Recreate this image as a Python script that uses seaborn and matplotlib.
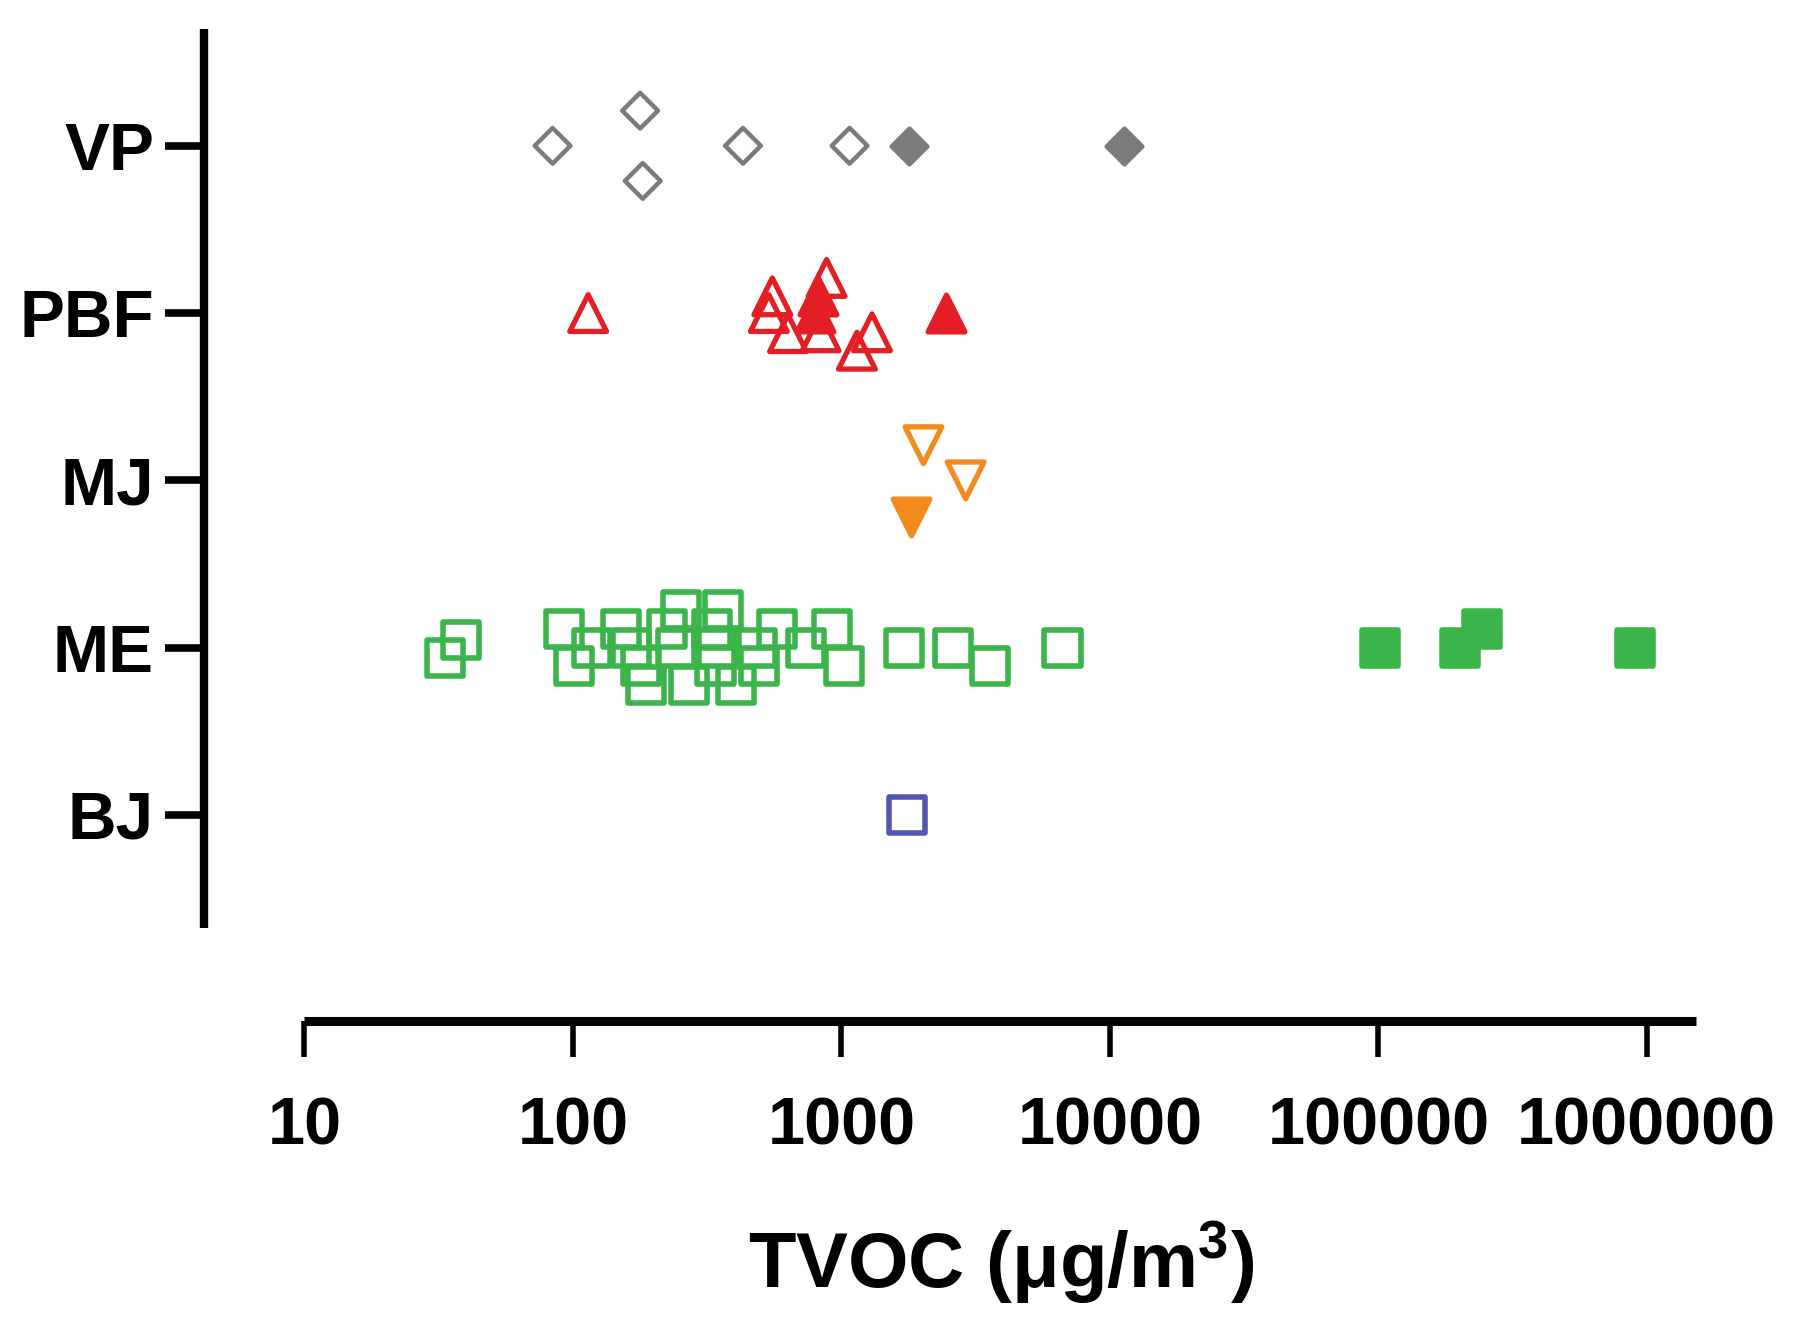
import numpy as np
import pandas as pd
import matplotlib
matplotlib.use("Agg")
import matplotlib.pyplot as plt
import seaborn as sns
from matplotlib.ticker import FixedLocator, FixedFormatter, NullLocator

# ---------------- data ----------------
categories = ["VP", "PBF", "MJ", "ME", "BJ"]

vp_open = [84, 178, 182, 430, 1073]
vp_open_jitter = [0.0, -0.21, 0.21, 0.0, 0.0]
vp_filled = [1784, 11275]
vp_filled_jitter = [0.0, 0.0]

pbf_open = [114, 553, 537, 881, 633, 1300, 1143, 837]
pbf_open_jitter = [0.0, -0.10, 0.0, -0.21, 0.12, 0.115, 0.225, 0.115]
pbf_filled = [818, 801, 2453]
pbf_filled_jitter = [-0.10, 0.0, 0.0]

mj_open = [2022, 2904]
mj_open_jitter = [-0.21, 0.0]
mj_filled = [1824]
mj_filled_jitter = [0.22]

me_open = [33.3, 38.3,
           253, 363,
           92.7, 150.7, 223.5, 330.4, 577, 925,
           118.1, 164.2, 241.5, 345, 486, 736.6,
           101, 178.9, 340, 492, 1023,
           186.7, 270.7, 404,
           1713, 2604, 3589, 6660]
me_open_jitter = [0.06, -0.045,
                  -0.227, -0.227,
                  -0.113, -0.113, -0.113, -0.113, -0.113, -0.113,
                  0.0, 0.0, 0.0, 0.0, 0.0, 0.0,
                  0.108, 0.108, 0.108, 0.108, 0.108,
                  0.221, 0.221, 0.221,
                  0.0, 0.0, 0.108, 0.0]
me_filled = [101400, 201900, 243000, 906000]
me_filled_jitter = [0.0, 0.0, -0.11, 0.0]

bj_open = [1750]
bj_open_jitter = [0.0]

x_ticks = [10, 100, 1000, 10000, 100000, 1000000]
x_tick_labels = ["10", "100", "1000", "10000", "100000", "1000000"]

# ---------------- style ----------------
sns.set_style("ticks")
plt.rcParams["font.family"] = ["Liberation Sans", "DejaVu Sans"]
plt.rcParams["font.weight"] = "bold"
plt.rcParams["mathtext.fontset"] = "custom"
plt.rcParams["mathtext.bf"] = "Liberation Sans:bold"
plt.rcParams["mathtext.rm"] = "Liberation Sans:bold"
plt.rcParams["mathtext.default"] = "bf"
for key in ["text.color", "axes.labelcolor", "xtick.color", "ytick.color",
            "axes.edgecolor", "xtick.labelcolor", "ytick.labelcolor"]:
    plt.rcParams[key] = "black"

colors = {
    "VP": "#7b7b7b",
    "PBF": "#e31e24",
    "MJ": "#f28a1e",
    "ME": "#3bb54a",
    "BJ": "#5255b3",
}
markers = {"VP": "D", "PBF": "^", "MJ": "v", "ME": "s", "BJ": "s"}
sizes = {"VP": 330, "PBF": 700, "MJ": 700, "ME": 680, "BJ": 680}
lws = {"VP": 3.2, "PBF": 3.8, "MJ": 3.8, "ME": 4.0, "BJ": 4.0}

groups = [
    ("VP", vp_open, vp_open_jitter, False),
    ("VP", vp_filled, vp_filled_jitter, True),
    ("PBF", pbf_open, pbf_open_jitter, False),
    ("PBF", pbf_filled, pbf_filled_jitter, True),
    ("MJ", mj_open, mj_open_jitter, False),
    ("MJ", mj_filled, mj_filled_jitter, True),
    ("ME", me_open, me_open_jitter, False),
    ("ME", me_filled, me_filled_jitter, True),
    ("BJ", bj_open, bj_open_jitter, False),
]

fig = plt.figure(figsize=(18, 13.34), dpi=100)
ax = fig.add_axes([204 / 1800, 0.3047, (1700 - 204) / 1800, 0.9785 - 0.3047])

for cat, vals, jit, filled in groups:
    row = categories.index(cat)
    df = pd.DataFrame({"TVOC": vals, "pos": row + np.asarray(jit, dtype=float)})
    c = colors[cat]
    kw = dict(marker=markers[cat], s=sizes[cat], linewidth=lws[cat],
              edgecolor=c, legend=False, ax=ax, zorder=3)
    kw["facecolor"] = c if filled else "none"
    sns.scatterplot(data=df, x="TVOC", y="pos", **kw)

ax.set_xscale("log")
ax.set_xlim(4.227, 1.578e6)
ax.set_ylim(4.673, -0.7)

ax.xaxis.set_major_locator(FixedLocator(x_ticks))
ax.xaxis.set_major_formatter(FixedFormatter(x_tick_labels))
ax.xaxis.set_minor_locator(NullLocator())
ax.set_yticks(range(len(categories)))
ax.set_yticklabels(categories)

for side in ["top", "right"]:
    ax.spines[side].set_visible(False)
ax.spines["left"].set_linewidth(6.0)
ax.spines["bottom"].set_linewidth(6.5)
ax.spines["bottom"].set_position(("outward", 67))
ax.spines["bottom"].set_bounds(10, 1.53e6)
ax.spines["left"].set_capstyle("butt")
ax.spines["bottom"].set_capstyle("butt")

ax.tick_params(axis="y", length=28, width=5.5, pad=8, labelsize=48.5, color="black")
ax.tick_params(axis="x", length=26, width=4.0, pad=29, labelsize=48, color="black")
for lab in ax.get_xticklabels() + ax.get_yticklabels():
    lab.set_fontweight("bold")

ax.set_xlabel(r"TVOC (μg/m$^{3}$)", fontsize=56, fontweight="bold", va="center")
ax.xaxis.set_label_coords(0.5328, -0.372)
ax.set_ylabel("")
ax.grid(False)

fig.savefig("out.png", dpi=100, facecolor="white")
